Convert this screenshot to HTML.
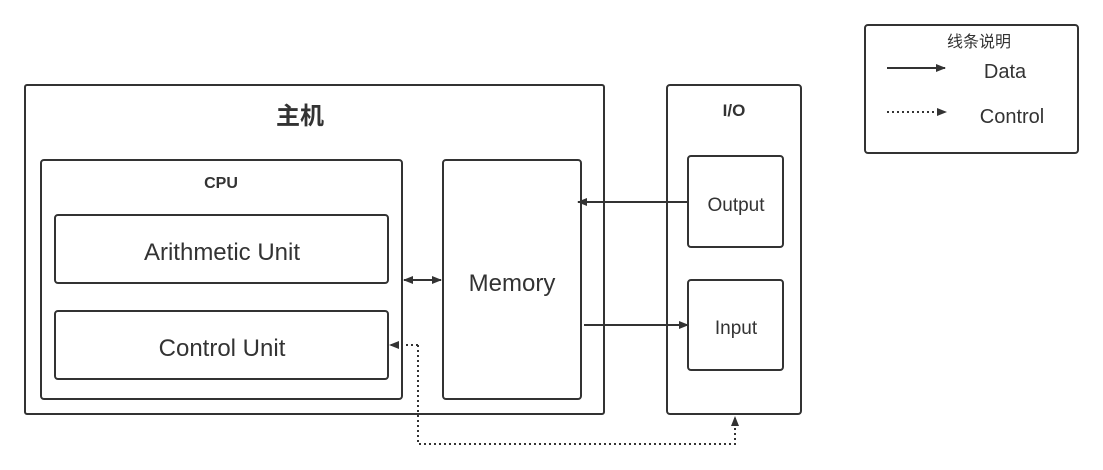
<!DOCTYPE html>
<html><head><meta charset="utf-8"><style>body{margin:0;background:#fff}svg{display:block}</style></head><body>
<svg width="1103" height="470" viewBox="0 0 1103 470" xmlns="http://www.w3.org/2000/svg" font-family="Liberation Sans, Noto Sans CJK SC, sans-serif" fill="none" stroke="#333">
<defs>
<marker id="a" markerWidth="10" markerHeight="8" refX="9" refY="4" orient="auto" markerUnits="userSpaceOnUse"><path d="M0,0 L10,4 L0,8 Z" fill="#333" stroke="none"/></marker>
<marker id="b" markerWidth="10" markerHeight="8" refX="1" refY="4" orient="auto" markerUnits="userSpaceOnUse"><path d="M10,0 L0,4 L10,8 Z" fill="#333" stroke="none"/></marker>
</defs>
<g stroke-width="2">
<rect x="25" y="85" width="579" height="329" rx="2"/>
<rect x="41" y="160" width="361" height="239" rx="3"/>
<rect x="55" y="215" width="333" height="68" rx="3"/>
<rect x="55" y="311" width="333" height="68" rx="3"/>
<rect x="443" y="160" width="138" height="239" rx="3"/>
<rect x="667" y="85" width="134" height="329" rx="3"/>
<rect x="688" y="156" width="95" height="91" rx="3"/>
<rect x="688" y="280" width="95" height="90" rx="3"/>
<rect x="865" y="25" width="213" height="128" rx="3"/>
<line x1="404" y1="280" x2="441" y2="280" marker-start="url(#b)" marker-end="url(#a)"/>
<line x1="688" y1="202" x2="578" y2="202" marker-end="url(#a)"/>
<line x1="584" y1="325" x2="688" y2="325" marker-end="url(#a)"/>
<polyline points="418,345 418,444 735,444 735,417" stroke-dasharray="2,3" marker-end="url(#a)"/>
<line x1="418" y1="345" x2="390" y2="345" stroke-dasharray="2,3" marker-end="url(#a)"/>
<line x1="887" y1="68" x2="945" y2="68" marker-end="url(#a)"/>
<line x1="887" y1="112" x2="946" y2="112" stroke-dasharray="2,3" marker-end="url(#a)"/>
</g>
<g fill="#333" stroke="none" text-anchor="middle">
<text x="300" y="124" font-size="24" font-weight="bold">主机</text>
<text x="221" y="188" font-size="16" font-weight="bold">CPU</text>
<text x="222" y="260" font-size="24">Arithmetic Unit</text>
<text x="222" y="356" font-size="24">Control Unit</text>
<text x="512" y="291" font-size="24">Memory</text>
<text x="734" y="116" font-size="17" font-weight="bold">I/O</text>
<text x="736" y="211" font-size="19">Output</text>
<text x="736" y="334" font-size="19">Input</text>
<text x="979" y="47" font-size="16">线条说明</text>
<text x="1005" y="78" font-size="20">Data</text>
<text x="1012" y="123" font-size="20">Control</text>
</g>
</svg>
</body></html>
